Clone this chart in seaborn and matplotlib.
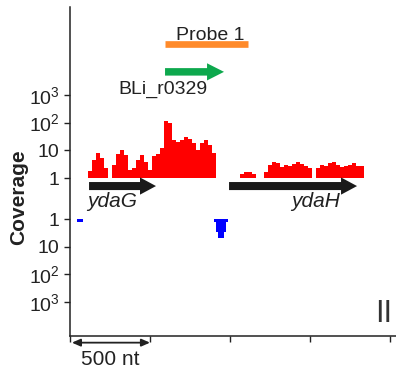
import numpy as np
import pandas as pd
import matplotlib
matplotlib.use("Agg")
import matplotlib.pyplot as plt
from matplotlib.patches import FancyArrow
import seaborn as sns

# ---------------- data ----------------
# positive-strand coverage (reads), 25-nt bins starting at 112.5 nt
pos_start = 112.5
bin_w = 25.0
pos_cov = [1.8, 4.5, 8, 5.3, 2.3, 1, 3, 7.3, 10, 6.8,
           1.9, 2.3, 4.5, 6.8, 3.8, 1.9, 6.2, 7.3, 12, 114,
           97, 23.5, 20, 23.5, 30, 25.6, 18.4, 10, 18.4, 23.5,
           15.5, 8, 1, 1, 1, 1, 1, 1, 1.4, 1.65,
           1.65, 1.4, 1, 1, 1.65, 3, 3.8, 3.5, 2.5, 3,
           2.7, 3.2, 3.8, 3.2, 2.7, 2.3, 1, 2.3, 3, 2.7,
           3.5, 3.8, 3, 2.5, 2.7, 3, 3.5, 2.7, 2.7]

# negative-strand coverage (reads): bin edges (nt) and values
neg_edges_1 = [44, 81]
neg_cov_1 = [1.3]
neg_edges_2 = [900, 912.5, 925, 962.5, 975, 987.5]
neg_cov_2 = [1.3, 3.0, 4.9, 3.0, 1.3]

# genes / features (nt)
genes = ["ydaG", "ydaH"]
gene_start = [119, 994]
gene_end = [537.5, 1794]
srna_name = "BLi_r0329"
srna_start, srna_end = 594, 962.5
probe_name = "Probe 1"
probe_start, probe_end = 594, 1112

pos_ticks = [3, 2, 1, 0]
pos_labels = ["$10^3$", "$10^2$", "10", "1"]
neg_labels = ["1", "10", "$10^2$", "$10^3$"]
neg_offset = 1.48          # gap (in decades) between the two strand baselines
scale_nt = 500

# ---------------- figure ----------------
sns.set_style("ticks")
plt.rcParams['font.family'] = ['Liberation Sans', 'DejaVu Sans']
plt.rcParams['mathtext.fontset'] = 'custom'
plt.rcParams['mathtext.rm'] = 'Liberation Sans'
plt.rcParams['mathtext.it'] = 'Liberation Sans:italic'
plt.rcParams['mathtext.bf'] = 'Liberation Sans:bold'
plt.rcParams['mathtext.default'] = 'regular'
txt = "#222222"

fig = plt.figure(figsize=(3.96, 3.72), dpi=100)
ax = fig.add_axes([70/396, 1-336/372, (396-70)/396, (336-7)/372])

edges = [pos_start + bin_w*i for i in range(len(pos_cov)+1)]
df = pd.DataFrame({"pos": [(edges[i] + edges[i+1]) / 2 for i in range(len(pos_cov))],
                   "logcov": np.log10(pos_cov)})
sns.histplot(data=df, x="pos", weights="logcov", bins=edges, element="step",
             fill=True, color="#FF0000", alpha=1, linewidth=0, ax=ax)

for e, v in [(neg_edges_1, neg_cov_1), (neg_edges_2, neg_cov_2)]:
    vv = np.log10(np.array(v + [v[-1]]))
    ax.fill_between(e, -neg_offset, -neg_offset - vv, step="post",
                    color="#0000FF", linewidth=0)

# gene arrows
for g, s, e in zip(genes, gene_start, gene_end):
    ax.add_patch(FancyArrow(s, -0.29, e - s, 0, width=0.29, head_width=0.62,
                            head_length=100, length_includes_head=True,
                            color="#1a1a1a", lw=0))
ax.text(106, -1.05, genes[0], style="italic", fontsize=15, color=txt,
        ha="left", va="baseline")
ax.text(1381, -1.05, genes[1], style="italic", fontsize=15, color=txt,
        ha="left", va="baseline")

# sRNA arrow
ax.add_patch(FancyArrow(srna_start, 3.83, srna_end - srna_start, 0, width=0.27,
                        head_width=0.62, head_length=106,
                        length_includes_head=True, color="#0DA84D", lw=0))
ax.text(300, 3.05, srna_name, fontsize=14, color=txt, ha="left", va="baseline")

# probe
ax.plot([probe_start, probe_end], [4.84, 4.84], color="#FF8A2A", lw=4.8,
        solid_capstyle="butt")
ax.text((176-70)*6.25, 4.98, probe_name, fontsize=14, color=txt,
        ha="left", va="baseline")

# panel mark
ax.text(1962, -4.91, "II", fontsize=22, color="#333333", ha="center", va="center")

# scale bar
ax.annotate("", xy=(12, -5.94), xytext=(scale_nt, -5.94),
            arrowprops=dict(arrowstyle="<|-|>,head_length=0.5,head_width=0.22",
                            lw=1.3, color=txt, shrinkA=0, shrinkB=0),
            annotation_clip=False)
ax.text(250, -6.75, f"{scale_nt} nt", fontsize=15, color=txt,
        ha="center", va="baseline", clip_on=False)

# axes
ax.set_xlim(0, 2037.5)
ax.set_ylim(-5.70, 6.17)
ax.set_xticks([0, 500, 1000, 1500, 2000])
ax.set_xticklabels([])
yt = pos_ticks + [-neg_offset - k for k in range(4)]
ax.set_yticks(yt)
ax.set_yticklabels(pos_labels + neg_labels, fontsize=14, color=txt)
ax.tick_params(axis="both", length=4.5, width=1, color=txt, pad=3)
ax.set_ylabel("")
ax.set_xlabel("")
for s in ["top", "right"]:
    ax.spines[s].set_visible(False)
for s in ["left", "bottom"]:
    ax.spines[s].set_linewidth(1.1)
    ax.spines[s].set_color(txt)

fig.text(19/396, 1-197/372, "Coverage", rotation=90, ha="center", va="center",
         fontsize=15, fontweight="bold", color=txt)

fig.savefig("out.png", dpi=100)
